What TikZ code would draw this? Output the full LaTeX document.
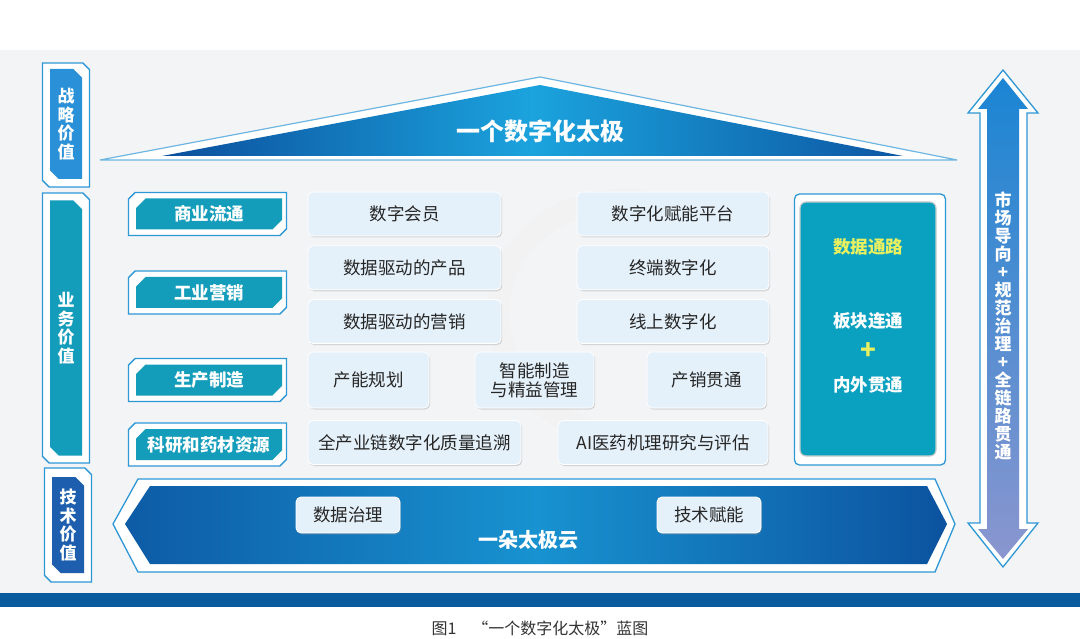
\documentclass[tikz,border=0pt]{standalone}
\usepackage{fontspec}
\setmainfont{Noto Sans CJK SC}
\usetikzlibrary{arrows.meta,positioning,shapes.misc,shadows}
\definecolor{bgc}{HTML}{F3F4F6}
\definecolor{bandc}{HTML}{0A5B9D}
\definecolor{framec}{HTML}{2E97D6}
\definecolor{tealc}{HTML}{149CBB}
\definecolor{boxc}{HTML}{E5F1FA}
\definecolor{deepc}{HTML}{0B4E9C}
\definecolor{skyc}{HTML}{1BA3DD}
\definecolor{panelc}{HTML}{0AA0C0}
\definecolor{goldc}{HTML}{E9F060}
\definecolor{arrtopc}{HTML}{1A85D3}
\definecolor{arrbotc}{HTML}{8B96CF}
\definecolor{stratc}{HTML}{2A90D8}
\definecolor{techc}{HTML}{1D5FAE}
\begin{document}
\begin{tikzpicture}[x=1pt,y=-1pt,card/.style={draw=white,line width=.8pt,rounded corners=5pt,fill=boxc,text=black!85,font=\fontsize{17.5}{20}\selectfont,align=center,minimum height=44pt,inner sep=2pt,drop shadow={shadow xshift=1.2pt,shadow yshift=-1.5pt,opacity=.3,fill=black!45}},tabframe/.style={chamfered rectangle,chamfered rectangle xsep=8pt,chamfered rectangle corners={north west,south east},draw=framec,line width=1.3pt,fill=white,minimum width=158pt,minimum height=43pt},tab/.style={chamfered rectangle,chamfered rectangle xsep=6pt,chamfered rectangle corners={north west,south east},fill=tealc,text=white,font=\bfseries\fontsize{17.5}{20}\selectfont,minimum width=146pt,minimum height=31pt,inner sep=1pt},sideframe/.style={chamfered rectangle,chamfered rectangle xsep=8pt,chamfered rectangle corners={north east,south west},draw=framec,line width=1.3pt,fill=white,minimum width=47pt},side/.style={chamfered rectangle,chamfered rectangle xsep=5pt,chamfered rectangle corners={north east,south west},text=white,font=\bfseries\fontsize{17}{18.5}\selectfont,align=center,minimum width=32pt,inner sep=1pt},lbl/.style={text=white,font=\bfseries\fontsize{17.5}{20}\selectfont},node distance=9pt]
\fill[white] (0,0) rectangle (1080,639);
\useasboundingbox (0,0) rectangle (1080,639);
\fill[bgc] (0,50) rectangle (1080,593);\fill[bandc] (0,593) rectangle (1080,607);
\draw[black!5,line width=22pt,line cap=round] (640,200) .. controls (470,190) and (440,400) .. (620,440);
\node[sideframe,minimum height=124pt] (stratf) at (66,125) {};
\node[side,fill=stratc,minimum height=110pt] (strat) at (66,124) {战\\略\\价\\值};
\node[sideframe,minimum height=270pt] (bizf) at (66,328) {};
\node[side,fill=tealc,minimum height=255pt] (biz) at (66,328) {业\\务\\价\\值};
\node[sideframe,minimum height=114pt] (techf) at (68,525) {};
\node[side,fill=techc,minimum height=96pt] (tech) at (68,525) {技\\术\\价\\值};
\draw[framec!70,line width=1.2pt,fill=white] (100,160)--(540,77)--(957,160)--cycle;
\shade[left color=deepc,right color=deepc!90!skyc,middle color=skyc] (162,156)--(540,85)--(903,156)--cycle;
\node[text=white,font=\bfseries\fontsize{24}{26}\selectfont] (roof) at (540,131) {一个数字化太极};
\node[tabframe] (trade0) at (207.5,214) {};\node[tab] (trade) at (209,214) {商业流通};
\node[tabframe] (market0) at (207.5,292.5) {};\node[tab] (market) at (209,292.5) {工业营销};
\node[tabframe] (make0) at (207.5,380) {};\node[tab] (make) at (209,380) {生产制造};
\node[tabframe] (rnd0) at (207.5,444.5) {};\node[tab] (rnd) at (209,444.5) {科研和药材资源};
\node[card,minimum width=193pt] (member) at (404.5,214) {数字会员};
\node[card,minimum width=193pt,below=of member] (dprod) {数据驱动的产品};
\node[card,minimum width=193pt,below=of dprod] (dsale) {数据驱动的营销};
\node[card,minimum width=192pt] (enable) at (673,214) {数字化赋能平台};
\node[card,minimum width=192pt,below=of enable] (term) {终端数字化};
\node[card,minimum width=192pt,below=of term] (online) {线上数字化};
\node[card,minimum width=121pt,minimum height=56pt] (capa) at (368.5,380) {产能规划};
\node[card,minimum width=119pt,minimum height=56pt,font=\fontsize{17.5}{19}\selectfont] (smart) at (534.5,380) {智能制造\\与精益管理};
\node[card,minimum width=119pt,minimum height=56pt] (flow) at (706.5,380) {产销贯通};
\node[card,minimum width=213pt] (trace) at (414.5,442.5) {全产业链数字化质量追溯};
\node[card,minimum width=210pt] (aimed) at (663,442.5) {AI医药机理研究与评估};
\node[draw=framec,line width=1.3pt,rounded corners=5pt,fill=white,minimum width=151pt,minimum height=271pt] (panel0) at (870,329.5) {};
\node[fill=panelc,draw=black!20,line width=1.2pt,rounded corners=6pt,minimum width=136pt,minimum height=254pt] (panel) at (868,329) {};
\node[lbl,text=goldc] (route) at (868,247) {数据通路};
\node[lbl] (link) at (868,321) {板块连通};
\node[text=goldc,font=\bfseries\fontsize{26}{26}\selectfont] (plus) at (868,351) {+};
\node[lbl] (thru) at (868,385) {内外贯通};
\draw[framec,line width=1.3pt,fill=white] (113,524)--(138,479)--(935,479)--(955,524)--(935,572)--(138,572)--cycle;
\shade[left color=deepc!85!skyc,right color=deepc!95!skyc,middle color=skyc!80!deepc] (125,524)--(150,486)--(927,486)--(947,524)--(927,564)--(150,564)--cycle;
\node[card,minimum width=104pt,minimum height=36pt] (govern) at (348,515) {数据治理};
\node[card,minimum width=104pt,minimum height=36pt] (tempower) at (709,515) {技术赋能};
\node[text=white,font=\bfseries\fontsize{20}{22}\selectfont] (cloud) at (528,540) {一朵太极云};
\draw[framec,line width=1.3pt,fill=white] (1003,70)--(1038,113)--(1027,113)--(1027,523)--(1038,523)--(1003,567)--(968,523)--(980,523)--(980,113)--(968,113)--cycle;
\shade[top color=arrtopc,bottom color=arrbotc] (1003,78)--(1028,109)--(1019,109)--(1019,529)--(1028,529)--(1003,559)--(978,529)--(987,529)--(987,109)--(978,109)--cycle;
\node[text=white,font=\bfseries\fontsize{17}{18}\selectfont,align=center] (guide) at (1003,326) {市\\场\\导\\向\\+\\规\\范\\治\\理\\+\\全\\链\\路\\贯\\通};
\node[text=black!80,font=\fontsize{16}{18}\selectfont] (cap) at (540,628) {图1\quad“一个数字化太极”蓝图};
\end{tikzpicture}
\end{document}
